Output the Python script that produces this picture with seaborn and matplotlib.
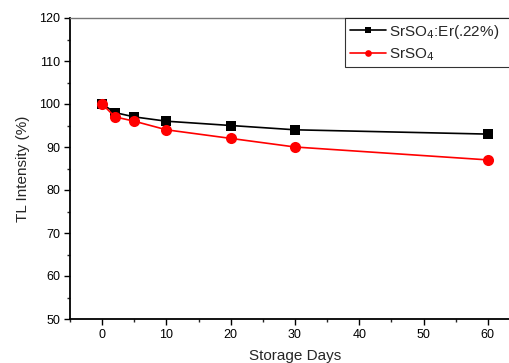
import matplotlib
matplotlib.use("Agg")
import matplotlib.pyplot as plt
import seaborn as sns
import pandas as pd
from matplotlib.ticker import MultipleLocator

days = [0, 2, 5, 10, 20, 30, 60]
er_doped = [100, 98, 97, 96, 95, 94, 93]
pure = [100, 97, 96, 94, 92, 90, 87]
labels = ["SrSO$_4$:Er(.22%)", "SrSO$_4$"]

sns.set_style("ticks")
plt.rcParams["font.family"] = ["Liberation Sans", "DejaVu Sans"]

fig = plt.figure(figsize=(5.09, 3.63), dpi=100)
ax = fig.add_axes([70/509, 44/363, 450/509, 301/363])

df1 = pd.DataFrame({"days": days, "val": er_doped})
df2 = pd.DataFrame({"days": days, "val": pure})
sns.lineplot(data=df1, x="days", y="val", ax=ax, color="black", marker="s",
             markersize=7, markeredgewidth=0, linewidth=1.2, label=labels[0])
sns.lineplot(data=df2, x="days", y="val", ax=ax, color="red", marker="o",
             markersize=8, markeredgewidth=0, linewidth=1.2, label=labels[1])

ax.set_xlim(-5, 65)
ax.set_ylim(50, 120)
ax.xaxis.set_major_locator(MultipleLocator(10))
ax.xaxis.set_minor_locator(MultipleLocator(5))
ax.yaxis.set_major_locator(MultipleLocator(10))
ax.yaxis.set_minor_locator(MultipleLocator(5))
ax.tick_params(which="major", direction="out", length=4, width=1, labelsize=9, colors="black", pad=3)
ax.tick_params(which="minor", direction="out", length=2.5, width=1)
for s in ["left", "bottom"]:
    ax.spines[s].set_linewidth(1.3)
    ax.spines[s].set_color("black")
ax.spines["top"].set_color("#777777")
ax.spines["top"].set_linewidth(1)
ax.spines["right"].set_visible(False)

ax.set_xlabel("Storage Days", fontsize=11, labelpad=6)
ax.set_ylabel("TL Intensity (%)", fontsize=11, labelpad=7)

leg = ax.legend(loc="upper left", bbox_to_anchor=((345 - 70) / 450, 0.0, 200 / 450, 1.0),
                mode="expand", fontsize=11,
                frameon=True, fancybox=False, handlelength=2.4, handletextpad=0.2,
                borderpad=0.3, labelspacing=0.35, borderaxespad=0.0, markerscale=0.6)
leg.get_frame().set_edgecolor("black")
leg.get_frame().set_linewidth(0.8)

fig.savefig("out.png", dpi=100)
